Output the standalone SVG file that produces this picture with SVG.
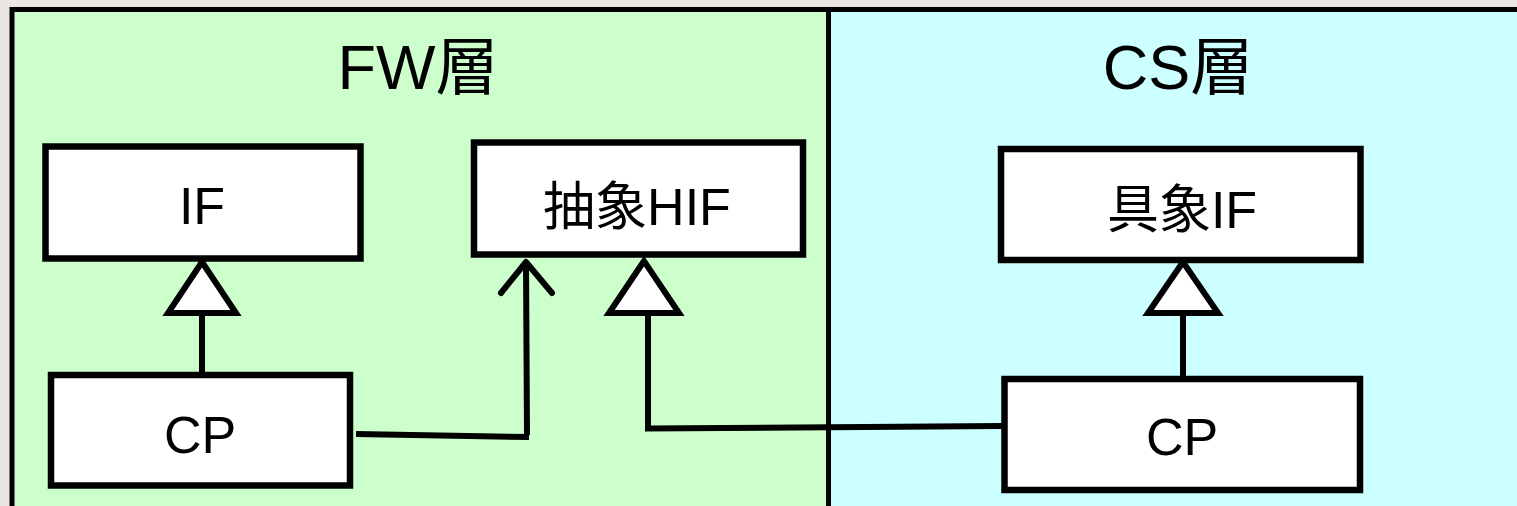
<svg xmlns="http://www.w3.org/2000/svg" width="1517" height="506" viewBox="0 0 1517 506">
<style>
.box{fill:#fff;stroke:#000;stroke-width:6.5}
.lbl{font-family:"Liberation Sans","Noto Sans CJK JP",sans-serif;font-size:52px;fill:#000;text-anchor:middle}
.ttl{font-family:"Liberation Sans","Noto Sans CJK JP",sans-serif;font-size:63px;fill:#000;text-anchor:middle}
.ln{fill:none;stroke:#000;stroke-width:6}
.tri{fill:#fff;stroke:#000;stroke-width:6;stroke-linejoin:miter}
</style>
<rect x="0" y="0" width="1517" height="506" fill="#ECE6E2"/>
<g id="fw-layer">
<rect x="12" y="9.5" width="816.5" height="510" fill="#CCFFCC" stroke="#000" stroke-width="5"/>
<text class="ttl" x="418" y="89">FW層</text>
</g>
<g id="cs-layer">
<rect x="828.5" y="9.5" width="700" height="510" fill="#CCFFFF" stroke="#000" stroke-width="5"/>
<text class="ttl" x="1178" y="89">CS層</text>
</g>
<g id="if">
<rect class="box" x="45.5" y="146.5" width="315" height="112"/>
<text class="lbl" x="202" y="224">IF</text>
</g>
<g id="cp-fw">
<rect class="box" x="51" y="375" width="299" height="110.5"/>
<text class="lbl" x="200" y="453">CP</text>
</g>
<g id="abstract-hif">
<rect class="box" x="474" y="142.5" width="329" height="112"/>
<text class="lbl" x="637" y="225">抽象HIF</text>
</g>
<g id="concrete-if">
<rect class="box" x="1001" y="149" width="359.5" height="111"/>
<text class="lbl" x="1182" y="228">具象IF</text>
</g>
<g id="cp-cs">
<rect class="box" x="1004.5" y="379" width="355.5" height="111"/>
<text class="lbl" x="1182" y="455">CP</text>
</g>
<g id="connectors">
<line class="ln" x1="202" y1="375" x2="202" y2="314"/>
<polygon class="tri" points="202,262 168,313 236,313"/>
<line class="ln" x1="1183" y1="379" x2="1183" y2="314"/>
<polygon class="tri" points="1183,262 1148,313 1218,313"/>
<polyline class="ln" points="1002,426 648,428.5 648,314"/>
<polygon class="tri" points="644,261 609,313 679,313"/>
<polyline class="ln" points="356,434 529,437"/>
<line class="ln" x1="527" y1="435" x2="526" y2="262"/>
<polyline class="ln" points="501,293 526,262 552,293" stroke-linecap="round" stroke-linejoin="round"/>
</g>
</svg>
